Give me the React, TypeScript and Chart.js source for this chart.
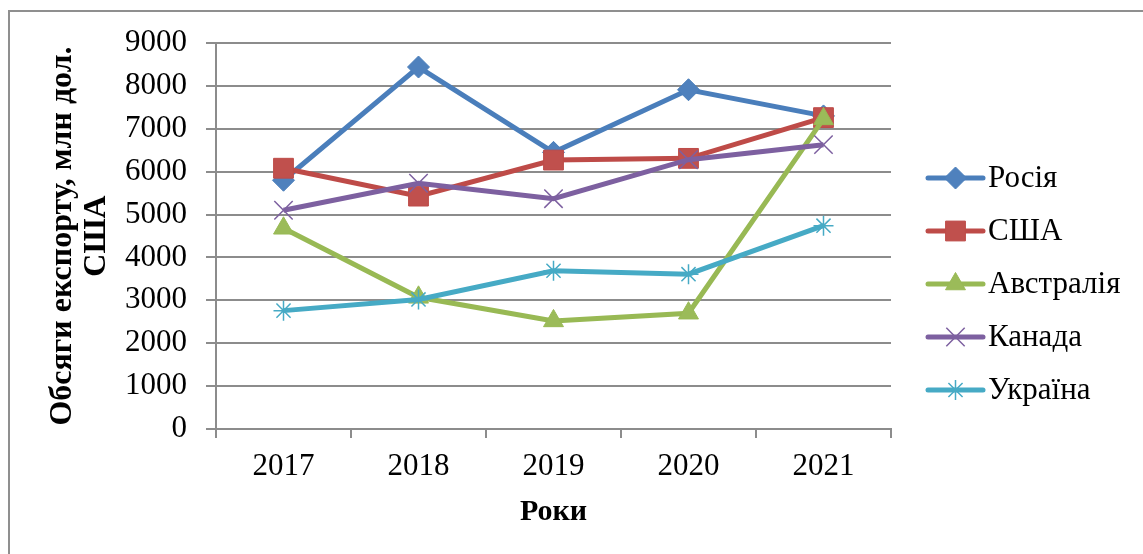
import React, { useEffect, useRef } from 'react';
import { Chart, registerables } from 'chart.js';
import { drawPoint } from 'chart.js/helpers';

Chart.register(...registerables);

// Export volumes by year, mln USD
const years = ['2017', '2018', '2019', '2020', '2021'];
const russia = [5800, 8440, 6450, 7910, 7300];
const usa = [6080, 5430, 6270, 6310, 7260];
const australia = [4680, 3070, 2520, 2700, 7230];
const canada = [5100, 5730, 5370, 6280, 6630];
const ukraine = [2760, 3020, 3690, 3610, 4740];

const seriesNames = ['Росія', 'США', 'Австралія', 'Канада', 'Україна'];
const yMin = 0;
const yMax = 9000;
const yStep = 1000;
const yTitle = ['Обсяги експорту, млн дол.', 'США'];
const xTitle = 'Роки';

const FONT = "'Liberation Serif', 'Times New Roman', serif";
const GRID = '#8c8c8c';

// Legend drawn with line sample + marker, stacked on the right
const lineLegend = {
  id: 'lineLegend',
  afterDraw(chart: any) {
    const { ctx } = chart;
    const x0 = chart.chartArea.right + 37;
    const x1 = x0 + 55;
    const top = 178;
    const step = 53;
    ctx.save();
    chart.data.datasets.forEach((ds: any, i: number) => {
      const y = top + i * step;
      ctx.strokeStyle = ds.borderColor;
      ctx.lineWidth = 5;
      ctx.lineCap = 'round';
      ctx.beginPath();
      ctx.moveTo(x0, y);
      ctx.lineTo(x1, y);
      ctx.stroke();
      ctx.lineCap = 'butt';
      ctx.fillStyle = ds.pointBackgroundColor;
      ctx.strokeStyle = ds.pointBorderColor;
      ctx.lineWidth = ds.pointBorderWidth;
      drawPoint(ctx, { pointStyle: ds.pointStyle, radius: ds.pointRadius, borderWidth: ds.pointBorderWidth, rotation: 0 }, (x0 + x1) / 2, y);
      ctx.fillStyle = '#000';
      ctx.font = `31px ${FONT}`;
      ctx.textBaseline = 'middle';
      ctx.textAlign = 'left';
      ctx.fillText(ds.label, x1 + 5, y + 1);
    });
    ctx.restore();
  },
};

export default function App() {
  const ref = useRef<HTMLCanvasElement | null>(null);

  useEffect(() => {
    if (!ref.current) return;
    Chart.defaults.font.family = FONT;
    const mk = (label: string, data: number[], line: string, fill: string, style: string, r: number, bw: number, order: number) => ({
      label,
      data,
      borderColor: line,
      backgroundColor: line,
      borderWidth: 5,
      pointStyle: style,
      pointRadius: r,
      pointHoverRadius: r,
      pointBackgroundColor: fill,
      pointBorderColor: line,
      pointBorderWidth: bw,
      tension: 0,
      order,
    });
    const chart = new Chart(ref.current, {
      type: 'line',
      data: {
        labels: years,
        datasets: [
          mk(seriesNames[0], russia, '#4a7ebb', '#4f81bd', 'rectRot', 11, 1, 5),
          mk(seriesNames[1], usa, '#be4b48', '#c0504d', 'rect', 14, 1, 4),
          mk(seriesNames[2], australia, '#98b954', '#9bbb59', 'triangle', 11.5, 1, 3),
          mk(seriesNames[3], canada, '#7d60a0', '#8064a2', 'crossRot', 13, 1.5, 2),
          mk(seriesNames[4], ukraine, '#46aac5', '#4bacc6', 'star', 10, 1.5, 1),
        ] as any,
      },
      options: {
        animation: false,
        responsive: false,
        devicePixelRatio: 1,
        layout: { padding: { left: 10, right: 252, top: 43, bottom: 0 } },
        plugins: { legend: { display: false }, tooltip: { enabled: false } },
        scales: {
          x: {
            offset: true,
            grid: { offset: true, drawOnChartArea: false, drawTicks: true, tickLength: 9, color: GRID, lineWidth: 2 },
            border: { display: true, color: GRID, width: 2 },
            ticks: { color: '#000', font: { size: 31, family: FONT }, padding: 10 },
            title: { display: true, text: xTitle, color: '#000', font: { size: 30, weight: 'bold', family: FONT }, padding: { top: 0, bottom: 24 } },
            afterFit(scale: any) { scale.height = 125; },
          },
          y: {
            min: yMin,
            max: yMax,
            ticks: { stepSize: yStep, color: '#000', font: { size: 31, family: FONT }, padding: 19, callback: (v: any) => String(v) },
            grid: { color: GRID, lineWidth: 2, drawTicks: true, tickLength: 10 },
            border: { display: true, color: GRID, width: 2 },
            title: { display: true, text: yTitle, color: '#000', font: { size: 32, weight: 'bold', family: FONT, lineHeight: 1.05 }, padding: { top: 36, bottom: 0 } },
            afterFit(scale: any) { scale.width = 206; },
          },
        },
      } as any,
      plugins: [lineLegend],
    });
    return () => chart.destroy();
  }, []);

  return (
    <div style={{ position: 'fixed', left: 0, top: 0, width: 1143, height: 554, background: '#fff', overflow: 'hidden' }}>
      <div style={{ position: 'absolute', left: 8, top: 10, width: 2000, height: 2000, borderLeft: '2px solid #8f8f8f', borderTop: '2px solid #8f8f8f' }} />
      <canvas ref={ref} width={1143} height={554} style={{ position: 'absolute', left: 0, top: 0 }} />
    </div>
  );
}
